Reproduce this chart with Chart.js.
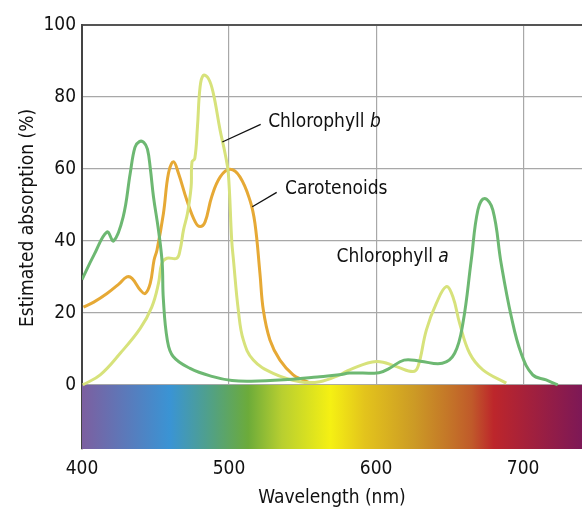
<!DOCTYPE html>
<html>
<head>
<meta charset="utf-8">
<script src="https://cdn.jsdelivr.net/npm/chart.js@4.4.1/dist/chart.umd.min.js"></script>
<style>
  html, body { margin: 0; padding: 0; background: #fff; }
</style>
</head>
<body>
<canvas id="chart" width="582" height="508"></canvas>
<script>
'use strict';

const FONT = "'DejaVu Sans Condensed', 'DejaVu Sans', sans-serif";

// 축 눈금
const xTicks = [400, 500, 600, 700];
const yTicks = [0, 20, 40, 60, 80, 100];

// Chlorophyll a
const chlAX = [400, 408, 417, 421.5, 428, 432.8, 436, 439, 442, 444.5, 446.5, 448.6, 452, 454.5, 455.3, 458, 462, 473.5, 489, 502, 515, 540, 560, 575, 582, 602, 609, 619, 630, 645, 653.4, 659, 664.7, 669.2, 673.7, 679.4, 685, 691.9, 698.6, 706.5, 715.6, 723.5];
const chlAY = [29.3, 36, 42.5, 40, 46.7, 58.8, 66, 67.6, 67.4, 65.5, 60, 52.3, 43, 34, 24, 12.5, 7.9, 4.6, 2.3, 1.2, 1.0, 1.5, 2.2, 2.8, 3.3, 3.4, 4.6, 6.9, 6.6, 6.0, 8.8, 17.1, 34.7, 48.6, 51.8, 48.6, 33.8, 19, 8.8, 2.8, 1.4, 0];

// Chlorophyll b
const chlBX = [400.5, 412.4, 426, 439.6, 447.5, 452, 454.3, 457.7, 464.5, 466.7, 469, 471.7, 474.2, 474.8, 476.7, 478.5, 480.3, 482.5, 486, 489.3, 493.9, 497.3, 499.5, 501.8, 503, 506.3, 509.7, 516.5, 530, 548.2, 561.7, 575.3, 582, 600.2, 613.8, 625, 628.5, 634.2, 641, 647.7, 652.2, 656.8, 663.6, 672.6, 688.5];
const chlBY = [0, 2.8, 8.8, 15.7, 21.7, 28.2, 33.8, 35.2, 35.2, 37.5, 43, 47.6, 55, 62, 62.9, 71.7, 82.8, 86, 85.1, 81, 70.8, 64.3, 58.8, 40.2, 34.7, 20.8, 12.5, 6.9, 3.2, 0.9, 0.9, 2.8, 4.2, 6.5, 5.1, 3.7, 5.1, 15.3, 22.7, 27.3, 24.5, 17.1, 8.8, 4.2, 0.5];

// Carotenoids
const carX = [401, 408, 417, 425, 430.5, 434, 439.6, 443, 446.4, 449, 451, 455.4, 458.8, 462.2, 465.6, 471.3, 477, 480.3, 483.7, 488.2, 494, 500.7, 507.4, 514.2, 517.6, 521, 523.3, 527.8, 534.6, 543.6, 550.4, 555];
const carY = [21.6, 23, 25.4, 28, 30, 29.6, 26.4, 25.4, 28.2, 34.7, 37.5, 47.7, 58.8, 62, 58.8, 51.3, 45.3, 44, 45.3, 52.3, 57.8, 59.9, 57.8, 51.3, 44.9, 31, 20.8, 12.5, 6.9, 2.8, 1.4, 0.5];

// 스펙트럼 띠
const spectrumNm = [400, 460, 486, 513, 536, 569, 592, 626, 649, 665, 680, 740];
const spectrumColors = ['#7c5fa0', '#3a94d4', '#50a08a', '#6cab3a', '#b8cf30', '#f5f013', '#e3c41c', '#cc9a25', '#c47628', '#c05a2a', '#bd262b', '#7d1856'];

// 라벨 (x nm, y %)
const labelText   = ['Chlorophyll ', 'Carotenoids', 'Chlorophyll '];
const labelItalic = ['b', '', 'a'];
const labelX      = [526.6, 538, 573.1];
const labelY      = [73.1, 54.3, 35.6];
// 지시선
const leaderX1 = [495.4, 515.8];
const leaderY1 = [67.5, 49.5];
const leaderX2 = [521.5, 532.4];
const leaderY2 = [72.4, 53.5];

const pts = (xs, ys) => xs.map((x, i) => ({ x, y: ys[i] }));

const spectrumPlugin = {
  id: 'spectrum',
  beforeDatasetsDraw(chart) {
    const { ctx, chartArea, scales: { x, y } } = chart;
    const top = y.getPixelForValue(0);
    const bottom = y.getPixelForValue(y.min);
    const x0 = x.getPixelForValue(spectrumNm[0]);
    const x1 = x.getPixelForValue(spectrumNm[spectrumNm.length - 1]);
    const g = ctx.createLinearGradient(x0, 0, x1, 0);
    spectrumNm.forEach((nm, i) => {
      g.addColorStop((x.getPixelForValue(nm) - x0) / (x1 - x0), spectrumColors[i]);
    });
    ctx.save();
    ctx.fillStyle = g;
    ctx.fillRect(chartArea.left, top, chartArea.right - chartArea.left, bottom - top);
    ctx.restore();
  }
};

const labelPlugin = {
  id: 'labels',
  afterDatasetsDraw(chart) {
    const { ctx, chartArea, scales: { x, y } } = chart;
    ctx.save();
    ctx.strokeStyle = '#111';
    ctx.lineWidth = 1.3;
    leaderX1.forEach((_, i) => {
      ctx.beginPath();
      ctx.moveTo(x.getPixelForValue(leaderX1[i]), y.getPixelForValue(leaderY1[i]));
      ctx.lineTo(x.getPixelForValue(leaderX2[i]), y.getPixelForValue(leaderY2[i]));
      ctx.stroke();
    });
    ctx.fillStyle = '#111';
    ctx.textBaseline = 'middle';
    ctx.textAlign = 'left';
    labelText.forEach((t, i) => {
      const px = x.getPixelForValue(labelX[i]);
      const py = y.getPixelForValue(labelY[i]);
      ctx.font = `19px ${FONT}`;
      ctx.fillText(t, px, py);
      const w = ctx.measureText(t).width;
      if (labelItalic[i]) {
        ctx.font = `italic 19px ${FONT}`;
        ctx.fillText(labelItalic[i], px + w, py);
      }
    });

    // y축 제목
    ctx.translate(28, chartArea.top + 193);
    ctx.rotate(-Math.PI / 2);
    ctx.textAlign = 'center';
    ctx.font = `19px ${FONT}`;
    ctx.fillText('Estimated absorption (%)', 0, 0);
    ctx.restore();
  }
};

const line = (label, data, color) => ({
  label, data,
  borderColor: color,
  borderWidth: 3,
  pointRadius: 0,
  fill: false,
  tension: 0.4
});

Chart.defaults.font.family = FONT;
Chart.defaults.font.size = 19;
Chart.defaults.color = '#111';

new Chart(document.getElementById('chart'), {
  type: 'line',
  data: {
    datasets: [
      line('Chlorophyll a', pts(chlAX, chlAY), '#6db872'),
      line('Chlorophyll b', pts(chlBX, chlBY), '#d7e27b'),
      line('Carotenoids',   pts(carX, carY),   '#e6a935')
    ]
  },
  options: {
    responsive: false,
    devicePixelRatio: 1,
    animation: false,
    layout: { padding: { top: 25, left: 0, right: 0, bottom: 0 } },
    plugins: { legend: { display: false }, tooltip: { enabled: false } },
    scales: {
      x: {
        type: 'linear',
        min: 400, max: 740,
        afterBuildTicks: s => { s.ticks = xTicks.map(v => ({ value: v })); },
        afterFit: s => { s.height = 59; },
        grid: { color: '#a8a8a8', lineWidth: 1.2, drawTicks: false },
        border: { display: false },
        ticks: { padding: 9, maxRotation: 0 },
        title: { display: true, text: 'Wavelength (nm)', padding: { top: 0, bottom: -1 } }
      },
      y: {
        min: -17.8, max: 100,
        afterBuildTicks: s => { s.ticks = yTicks.map(v => ({ value: v })); },
        afterFit: s => { s.width = 82; },
        grid: {
          color: c => (c.tick && c.tick.value === 100 ? '#555' : '#a8a8a8'),
          lineWidth: c => (c.tick && c.tick.value === 100 ? 2 : 1.2),
          drawTicks: false
        },
        border: { color: '#444', width: 2 },
        ticks: { padding: 6 }
      }
    }
  },
  plugins: [spectrumPlugin, labelPlugin]
});
</script>
</body>
</html>
